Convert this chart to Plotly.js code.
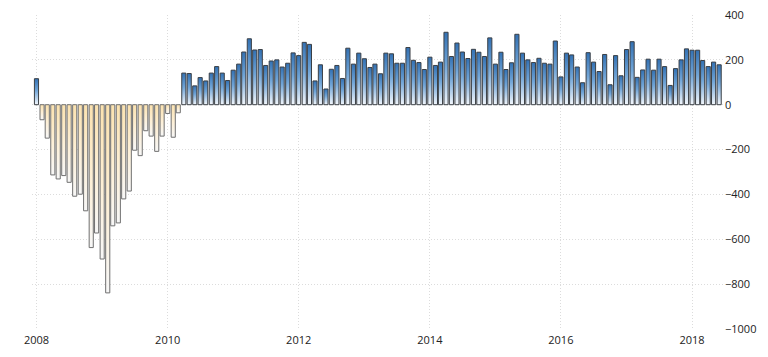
<!DOCTYPE html>
<html>
<head>
<meta charset="utf-8">
<script src="https://cdn.plot.ly/plotly-3.0.1.min.js"></script>
<style>
html,body{margin:0;padding:0;background:#fff;}
#chart{width:768px;height:357px;}
</style>
</head>
<body>
<div id="chart"></div>
<script>
// Monthly change, thousands (Jan 2008 - Jun 2018)
const startYear = 2008;
const values2008 = [116, -67, -149, -313, -331, -316, -346, -408, -399, -473, -637, -572];
const values2009 = [-688, -839, -540, -527, -420, -385, -203, -227, -116, -140, -208, -140];
const values2010 = [-39, -145, -36, 141, 139, 84, 121, 106, 141, 170, 141, 108];
const values2011 = [154, 181, 235, 294, 244, 246, 175, 195, 200, 168, 185, 231];
const values2012 = [219, 278, 269, 106, 178, 70, 158, 175, 117, 252, 181, 230];
const values2013 = [205, 166, 181, 138, 230, 227, 185, 185, 255, 198, 188, 157];
const values2014 = [212, 175, 190, 323, 215, 275, 235, 206, 247, 234, 215, 298];
const values2015 = [181, 234, 157, 187, 314, 230, 200, 188, 207, 185, 181, 284];
const values2016 = [124, 230, 222, 168, 98, 232, 190, 148, 224, 89, 219, 129];
const values2017 = [246, 281, 122, 155, 203, 154, 203, 170, 86, 161, 200, 249];
const values2018 = [243, 243, 197, 170, 190, 178];

const yTickVals = [400, 200, 0, -200, -400, -600, -800, -1000];
const xTickVals = ['2008-01-01','2010-01-01','2012-01-01','2014-01-01','2016-01-01','2018-01-01'];
const xTickText = ['2008','2010','2012','2014','2016','2018'];

const values = [].concat(values2008, values2009, values2010, values2011, values2012,
  values2013, values2014, values2015, values2016, values2017, values2018);
const dates = values.map((v, i) => {
  const y = startYear + Math.floor(i / 12);
  const m = (i % 12) + 1;
  return y + '-' + String(m).padStart(2, '0') + '-01';
});

const POS = '#4f8bc6', NEG = '#f7e7c6';
const DAY = 86400000;

const trace = {
  type: 'bar',
  x: dates,
  y: values,
  width: dates.map(() => 23 * DAY),
  marker: {
    color: values.map(v => v >= 0 ? POS : NEG),
    line: { color: values.map(v => v >= 0 ? '#3a3f45' : '#707070'), width: 1 }
  },
  hoverinfo: 'x+y'
};

const layout = {
  width: 768, height: 357,
  margin: { l: 32, r: 44, t: 15, b: 28 },
  paper_bgcolor: '#fff', plot_bgcolor: '#fff',
  showlegend: false,
  xaxis: {
    type: 'date',
    range: ['2007-12-07', '2018-06-28'],
    tickvals: xTickVals, ticktext: xTickText,
    showgrid: true, gridcolor: '#dcdcdc', griddash: '1px,2px', gridwidth: 1,
    zeroline: false, showline: false, ticks: '',
    ticklabelstandoff: 3,
    tickfont: { family: 'Open Sans, sans-serif', size: 11, color: '#222' }
  },
  yaxis: {
    side: 'right',
    range: [-1000, 400],
    tickvals: yTickVals,
    showgrid: true, gridcolor: '#dcdcdc', griddash: '1px,2px', gridwidth: 1,
    zeroline: false, showline: false, ticks: '',
    tickfont: { family: 'Open Sans, sans-serif', size: 11, color: '#222' }
  }
};

Plotly.newPlot('chart', [trace], layout, { displayModeBar: false, staticPlot: true }).then(gd => {
  const NS = 'http://www.w3.org/2000/svg';
  const svg = gd.querySelector('svg.main-svg');
  let defs = svg.querySelector('defs');
  if (!defs) { defs = document.createElementNS(NS, 'defs'); svg.insertBefore(defs, svg.firstChild); }
  function addGrad(id, stops) {
    const g = document.createElementNS(NS, 'linearGradient');
    g.setAttribute('id', id);
    g.setAttribute('x1', '0'); g.setAttribute('y1', '0');
    g.setAttribute('x2', '0'); g.setAttribute('y2', '1');
    stops.forEach(s => {
      const st = document.createElementNS(NS, 'stop');
      st.setAttribute('offset', s[0]);
      st.setAttribute('stop-color', s[1]);
      g.appendChild(st);
    });
    defs.appendChild(g);
  }
  addGrad('gradPos', [[0, '#3371b3'], [0.45, '#71a5d7'], [1, '#f3f7fc']]);
  addGrad('gradNeg', [[0, '#fbe2af'], [0.55, '#fdf0d8'], [1, '#f7f7f7']]);
  gd.querySelectorAll('.barlayer .point').forEach(pt => {
    const d = pt.__data__;
    const path = pt.querySelector('path');
    if (!path || !d) return;
    path.style.fill = (d.s >= 0) ? 'url(#gradPos)' : 'url(#gradNeg)';
  });
});
</script>
</body>
</html>
